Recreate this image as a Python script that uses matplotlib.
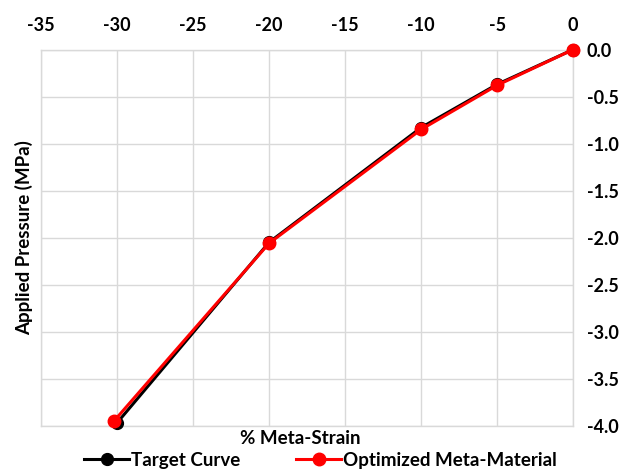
import matplotlib

matplotlib.use("Agg")
import matplotlib.pyplot as plt

plt.rcParams["font.family"] = ["Lato", "DejaVu Sans"]
plt.rcParams["font.weight"] = "bold"
plt.rcParams["axes.unicode_minus"] = False

strain_target = [-30, -20, -10, -5, 0]
pressure_target = [-3.97, -2.05, -0.83, -0.37, 0.0]

strain_opt = [-30.2, -20, -10, -5, 0]
pressure_opt = [-3.95, -2.06, -0.85, -0.38, 0.0]

x_ticks = [-35, -30, -25, -20, -15, -10, -5, 0]
y_ticks = [0.0, -0.5, -1.0, -1.5, -2.0, -2.5, -3.0, -3.5, -4.0]

fig = plt.figure(figsize=(6.26, 4.72), dpi=100)
ax = fig.add_axes([0.0655, 0.098, 0.85, 0.797])

ax.plot(strain_target, pressure_target, color="black", linewidth=2.2,
        marker="o", markersize=8.5, label="Target Curve", zorder=3, clip_on=False)
ax.plot(strain_opt, pressure_opt, color="#ff0000", linewidth=2.2,
        marker="o", markersize=9, label="Optimized Meta-Material", zorder=4,
        clip_on=False)

ax.set_xlim(-35, 0)
ax.set_ylim(-4.0, 0.0)
ax.set_xticks(x_ticks)
ax.set_yticks(y_ticks)
ax.set_yticklabels([f"{v:.1f}" for v in y_ticks])
ax.xaxis.tick_top()
ax.yaxis.tick_right()
ax.tick_params(length=0, labelsize=13, pad=11)
ax.tick_params(axis="y", pad=10)
for label in ax.get_xticklabels() + ax.get_yticklabels():
    label.set_fontweight("bold")

ax.grid(color="#d9d9d9", linewidth=1)
ax.set_axisbelow(True)
for spine in ax.spines.values():
    spine.set_color("#d9d9d9")
    spine.set_linewidth(1)

ax.set_ylabel("Applied Pressure (MPa)", fontsize=13.5, fontweight="bold", labelpad=6)
fig.text(0.479, 0.072, "% Meta-Strain", ha="center", va="center",
         fontsize=13.5, fontweight="bold")

fig.legend(loc="center", bbox_to_anchor=(0.512, 0.025), ncol=2, frameon=False,
           fontsize=13.5, handlelength=2.4, handletextpad=0.1, columnspacing=3.0,
           borderaxespad=0)

fig.savefig("out.png", dpi=100)
